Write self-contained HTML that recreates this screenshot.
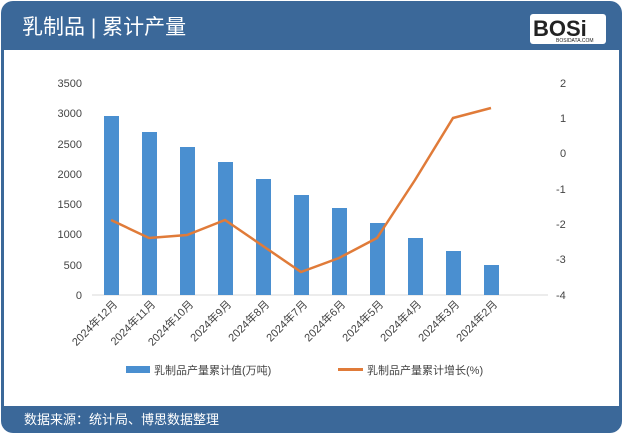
<!DOCTYPE html>
<html><head><meta charset="utf-8"><style>
body{margin:0;background:#fff;}
.wrap{position:relative;width:623px;height:434px;overflow:hidden;font-family:"Liberation Sans","Noto Sans CJK SC",sans-serif;}
</style></head><body><div class="wrap">
<svg width="623" height="434" xmlns="http://www.w3.org/2000/svg" font-family="Liberation Sans, Noto Sans CJK SC, sans-serif">
<rect x="1" y="1" width="621" height="432" rx="12" fill="#3b6899"/>
<rect x="4" y="50" width="615" height="356" fill="#fff"/>
<text x="22" y="34" font-size="21" fill="#fff">乳制品 | 累计产量</text>
<rect x="530" y="14" width="76" height="30" rx="3" fill="#fff"/>
<text x="533" y="36" font-size="22" font-weight="bold" fill="#222">BOSi</text>
<text x="556" y="42" font-size="5" fill="#222">BOSIDATA.COM</text>
<text x="24" y="424" font-size="13" fill="#fff">数据来源：统计局、博思数据整理</text>
<g font-size="11" fill="#444">
<text x="82" y="87" text-anchor="end">3500</text>
<text x="82" y="117" text-anchor="end">3000</text>
<text x="82" y="148" text-anchor="end">2500</text>
<text x="82" y="178" text-anchor="end">2000</text>
<text x="82" y="208" text-anchor="end">1500</text>
<text x="82" y="238" text-anchor="end">1000</text>
<text x="82" y="269" text-anchor="end">500</text>
<text x="82" y="299" text-anchor="end">0</text>
<text x="560" y="87">2</text>
<text x="560" y="122">1</text>
<text x="560" y="157">0</text>
<text x="556" y="193">-1</text>
<text x="556" y="228">-2</text>
<text x="556" y="263">-3</text>
<text x="556" y="299">-4</text>
</g>
<line x1="92" y1="295" x2="548" y2="295" stroke="#d9d9d9"/>
<g fill="#4a8fd0">
<rect x="104" y="116" width="15" height="179"/>
<rect x="142" y="132" width="15" height="163"/>
<rect x="180" y="147" width="15" height="148"/>
<rect x="218" y="162" width="15" height="133"/>
<rect x="256" y="179" width="15" height="116"/>
<rect x="294" y="195" width="15" height="100"/>
<rect x="332" y="208" width="15" height="87"/>
<rect x="370" y="223" width="15" height="72"/>
<rect x="408" y="238" width="15" height="57"/>
<rect x="446" y="251" width="15" height="44"/>
<rect x="484" y="265" width="15" height="30"/>
</g>
<polyline fill="none" stroke="#e07b39" stroke-width="2.5" points="111,220 149,238 187,235 225,220 263,246 301,272 339,258 377,238 415,180 453,118 491,108"/>
<g font-size="11" fill="#444">
<text transform="translate(118,305) rotate(-45)" text-anchor="end">2024年12月</text>
<text transform="translate(156,305) rotate(-45)" text-anchor="end">2024年11月</text>
<text transform="translate(194,305) rotate(-45)" text-anchor="end">2024年10月</text>
<text transform="translate(232,305) rotate(-45)" text-anchor="end">2024年9月</text>
<text transform="translate(270,305) rotate(-45)" text-anchor="end">2024年8月</text>
<text transform="translate(308,305) rotate(-45)" text-anchor="end">2024年7月</text>
<text transform="translate(346,305) rotate(-45)" text-anchor="end">2024年6月</text>
<text transform="translate(384,305) rotate(-45)" text-anchor="end">2024年5月</text>
<text transform="translate(422,305) rotate(-45)" text-anchor="end">2024年4月</text>
<text transform="translate(460,305) rotate(-45)" text-anchor="end">2024年3月</text>
<text transform="translate(498,305) rotate(-45)" text-anchor="end">2024年2月</text>
</g>
<rect x="126" y="366" width="24" height="7" fill="#4a8fd0"/>
<text x="154" y="374" font-size="11" fill="#444">乳制品产量累计值(万吨)</text>
<rect x="338" y="368" width="25" height="3" fill="#e07b39"/>
<text x="367" y="374" font-size="11" fill="#444">乳制品产量累计增长(%)</text>
</svg>
</div></body></html>
